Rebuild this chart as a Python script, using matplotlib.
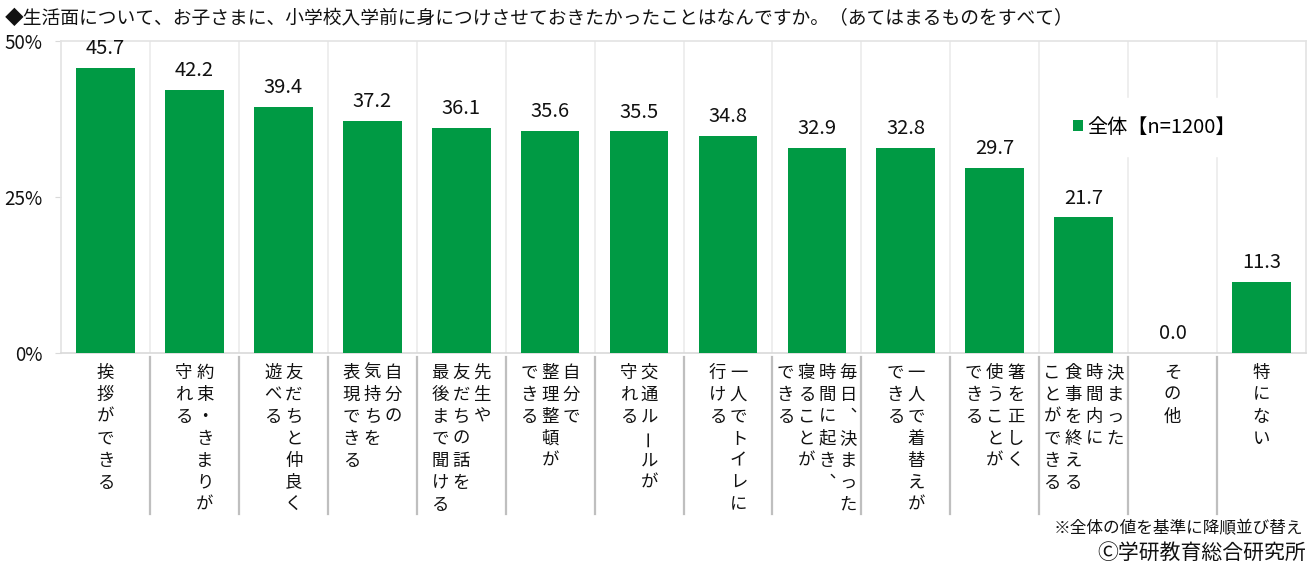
import matplotlib
matplotlib.use("Agg")
import matplotlib.pyplot as plt
from matplotlib.transforms import offset_copy
from matplotlib.lines import Line2D

plt.rcParams['font.family'] = ['Noto Sans CJK JP', 'DejaVu Sans']

title = "◆生活面について、お子さまに、小学校入学前に身につけさせておきたかったことはなんですか。（あてはまるものをすべて）"
series_name = "全体【n=1200】"
values = [45.7, 42.2, 39.4, 37.2, 36.1, 35.6, 35.5, 34.8, 32.9, 32.8, 29.7, 21.7, 0.0, 11.3]
# each category label: list of vertical columns, first column is rightmost
categories = [
    ["挨拶ができる"],
    ["約束・きまりが", "守れる"],
    ["友だちと仲良く", "遊べる"],
    ["自分の", "気持ちを", "表現できる"],
    ["先生や", "友だちの話を", "最後まで聞ける"],
    ["自分で", "整理整頓が", "できる"],
    ["交通ルールが", "守れる"],
    ["一人でトイレに", "行ける"],
    ["毎日、決まった", "時間に起き、", "寝ることが", "できる"],
    ["一人で着替えが", "できる"],
    ["箸を正しく", "使うことが", "できる"],
    ["決まった", "時間内に", "食事を終える", "ことができる"],
    ["その他"],
    ["特にない"],
]
yticks = [0, 25, 50]
ytick_labels = ["0%", "25%", "50%"]
note = "※全体の値を基準に降順並び替え"
credit = "Ⓒ学研教育総合研究所"

GREEN = "#009a44"
W, H = 1311, 566
fig = plt.figure(figsize=(W / 100, H / 100), dpi=100)
ax = fig.add_axes([61 / W, (H - 352.7) / H, 1245 / W, 311.7 / H])

n = len(values)
x = list(range(n))
ax.bar(x, values, width=0.66, color=GREEN, zorder=3, label=series_name)
ax.set_xlim(-0.5, n - 0.5)
ax.set_ylim(0, 50)

for s in ax.spines.values():
    s.set_color("#e3e3e3")
    s.set_linewidth(1.2)
ax.spines['bottom'].set_color("#d9d9d9")

ax.set_xticks([])
ax.set_xticks([i + 0.5 for i in range(n - 1)], minor=True)
ax.tick_params(axis='x', which='minor', length=0)
ax.grid(axis='x', which='minor', color="#ebebeb", linewidth=1.2, zorder=0)

ax.set_yticks(yticks)
ax.set_yticklabels(ytick_labels, fontsize=13.5)
ax.tick_params(axis='y', length=4, color="#d9d9d9", pad=9, labelcolor="#111111")

# value labels
for xi, v in zip(x, values):
    ax.annotate(f"{v:.1f}", (xi, v), xytext=(0, 10), textcoords='offset points',
                ha='center', va='baseline', fontsize=14.5, color="#111111", zorder=5)

# vertical category labels
xtrans = ax.get_xaxis_transform()
col_pitch = 21.0
row_pitch = 22.0
for i, cols in enumerate(categories):
    ncol = len(cols)
    for j, col in enumerate(cols):
        dx = ((ncol - 1) / 2 - j) * col_pitch
        for k, ch in enumerate(col):
            dy = -20 - k * row_pitch
            rot = 0
            if ch == "、":
                ch = "︑"
            if ch == "ー":
                rot = 90
            t = offset_copy(xtrans, fig=fig, x=dx, y=dy, units='dots')
            ax.text(i, 0, ch, transform=t, ha='center', va='center', rotation=rot,
                    fontsize=12.5, color="#111111", clip_on=False)

# separators between category labels
for b in range(n - 1):
    ax.add_line(Line2D([b + 0.5, b + 0.5], [-4.5 / 311.7, -161.5 / 311.7], transform=xtrans,
                       color="#bfbfbf", linewidth=1.6, clip_on=False))

# legend
leg = ax.legend(loc='center left', bbox_to_anchor=(0.79, 0.724), fontsize=14.5,
                handlelength=0.5, handleheight=0.5, handletextpad=0.2,
                frameon=True, framealpha=1, edgecolor='white', fancybox=False,
                borderpad=0.9)
leg.set_zorder(4)

fig.text(5 / W, 1 - 18 / H, title, ha='left', va='center', fontsize=13.5, color="#111111")
fig.text(1303 / W, 1 - 529 / H, note, ha='right', va='center', fontsize=12, color="#111111")
fig.text(1306 / W, 1 - 553 / H, credit, ha='right', va='center', fontsize=15, color="#111111")

fig.savefig("out.png", dpi=100)
